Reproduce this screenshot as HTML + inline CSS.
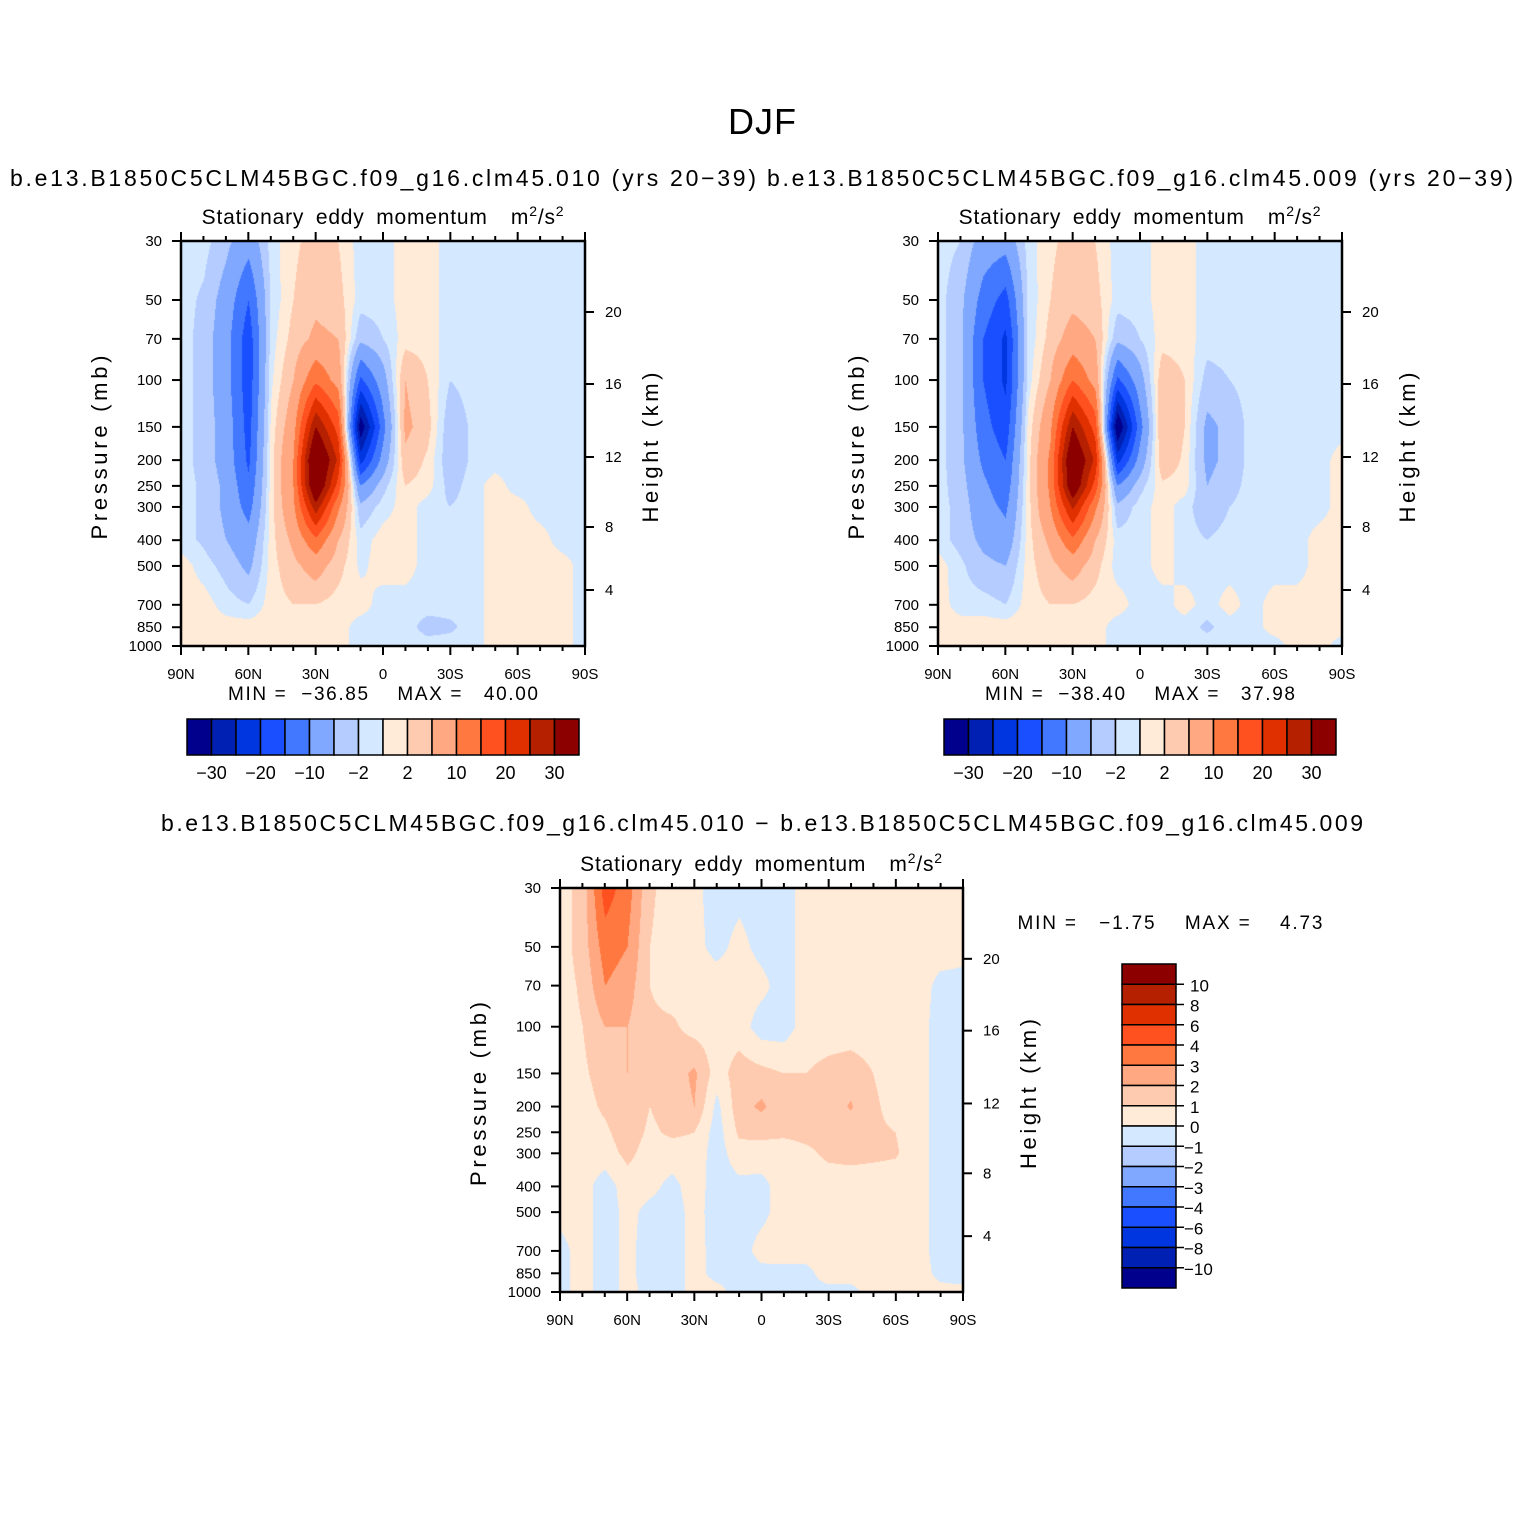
<!DOCTYPE html>
<html><head><meta charset="utf-8">
<style>
body{margin:0;background:#fff;}
#wrap{position:relative;width:1524px;height:1524px;background:#fff;overflow:hidden;font-family:"Liberation Sans",sans-serif;}
canvas{position:absolute;}
svg{position:absolute;left:0;top:0;}
</style></head>
<body>
<div id="wrap">
<canvas id="c1" width="404" height="405" style="left:181px;top:241px"></canvas>
<canvas id="c2" width="404" height="405" style="left:938px;top:241px"></canvas>
<canvas id="c3" width="403" height="404" style="left:560px;top:888px"></canvas>
<svg id="svg" width="1524" height="1524"></svg>
</div>
<script>
const lats=[90,80,70,60,50,40,30,20,10,0,-10,-20,-30,-40,-50,-60,-70,-80,-90];
const plevs=[30,50,70,100,150,200,250,300,400,500,700,850,1000];
const fieldA=[
[-1,-1,-1,-1,-1,-1,-1,-1,-1,1,1,1,1],
[-1,-2.5,-3,-3,-3,-3,-2.5,-2.5,-2.5,-1,1,1,1],
[-4,-7,-8,-8,-7,-7,-6,-6,-5,-3,-1,1,1],
[-8,-15,-18,-18,-17,-16,-14,-12,-8,-6,-2,1,2],
[-1,-1.5,-1,-0.5,0.5,1,1,1,1,1,1,1,2],
[1.5,2,3,5,8,10,10,9,6,4,2,1,1],
[3,4,6,14,30,40,38,28,14,7,2,1,1],
[2,3,5,8,18,24,18,11,5,3,1,1,1],
[-1,-1,-4,-16,-34,-22,-10,-4,-1,-0.5,1,-1,-1],
[-1,-1,-2,-7,-12,-8,-3,-1,1,1,-1,-1,-1],
[1,1,1,5,6,4,2,1,1,1,-1,-1,-1],
[1,1,1,2,3,1.5,1,-1,-1,-1,-1,-3,-1],
[-1,-1,-1,-2,-4,-4,-3,-2,-1,-1,-1,-2.5,-1],
[-1,-1,-1,-1,-1.5,-1.5,-1,-1,-1,-1,-1,-1,-1],
[-1,-1,-1,-1,-1,-1,1,1,1,1,1,1,1],
[-1,-1,-1,-1,-1,-1,-1,1,1,1,1,1,1],
[-1,-1,-1,-1,-1,-1,-1,-1,1,1,1,1,1],
[-1,-1,-1,-1,-1,-1,-1,-1,-1,1,1,1,1],
[-1,-1,-1,-1,-1,-1,-1,-1,-1,-1,-1,-1,-1]];
const fieldB=[
[-1,-1,-1,-1,-1,-1,-1,-1,-1,1,1,1,1],
[-2,-4,-4,-4,-4,-4,-3.5,-3,-3,-1.5,-1,1,1],
[-7,-12,-15,-15,-13,-11,-9,-8,-6,-4,-1,1,1],
[-8,-17,-21,-21,-18,-15,-13,-11,-8,-5,-2,1,2],
[-1,-1.5,-1.5,-1,0.5,1,1,1,1,1,1,1,2],
[1.5,2,3,5,9,11,11,10,6,4,2,1,1],
[3,4,7,15,30,38,36,26,14,7,2,1,1],
[2,3,5,8,18,24,18,11,5,3,1,1,1],
[-1,-1,-4,-16,-36,-22,-10,-4,-1,-1,1,-1,-1],
[-1,-1,-2,-7,-12,-8,-3,-1,-1,-1,-1,-1,-1],
[1,1,1,4,5,4,1.5,1,1,1,-1,-1,-1],
[1,1,1,2,2,1.5,1,-1,-1,-1,1,-1,-1],
[-1,-1,-1,-3,-6,-6,-5,-4,-2,-1,-1,-2.5,-1],
[-1,-1,-1,-2,-4,-4,-3,-2,-1,-1,1,-1,-1],
[-1,-1,-1,-1,-1,-1,-1,-1,-1,-1,-1,-1,-1],
[-1,-1,-1,-1,-1,-1,-1,-1,-1,-1,1,1,-1],
[-1,-1,-1,-1,-1,-1,-1,-1,-1,-1,1,1,1],
[-1,-1,-1,-1,-1,-1,-1,-1,1,1,1,1,1],
[-1,-1,-1,-1,-1,1,1,1,1,1,1,1,-1]];
const fieldD=[
[0.5,0.5,0.5,0.5,0.5,0.5,0.5,0.5,0.5,0.3,-0.3,-0.3,-0.3],
[1.5,1.5,1.2,1,0.8,0.6,0.5,0.5,0.4,0.4,0.4,0.4,0.4],
[4.5,3.5,3,2,1.5,1.2,0.8,0.5,-0.5,-0.5,-0.5,-0.5,-0.5],
[3.5,3,2.5,2,2,1.8,1.6,1.3,0.5,0.3,0.3,0.3,0.3],
[1.2,1,1,1.2,1.2,1,0.8,0.5,0.3,-0.3,-0.5,-0.5,-0.3],
[0.5,0.5,0.5,1.2,1.5,1.5,1.2,0.5,-0.3,-0.5,-0.5,-0.5,-0.5],
[0.3,0.3,0.5,0.6,2.2,2,1,0.6,0.5,0.4,0.4,0.4,0.4],
[-0.5,-0.3,0.5,0.5,0.5,-0.3,-0.5,-0.5,-0.5,-0.5,-0.4,-0.4,0.4],
[-0.3,0.3,0.5,0.5,1.5,1.6,1.2,0.6,-0.3,-0.5,-0.5,-0.5,-0.5],
[-0.5,-0.3,0.3,-0.5,1.3,2.2,1.3,0.5,-0.3,-0.3,0.4,-0.3,-0.3],
[-0.5,-0.5,-0.5,-0.5,1,1.3,1.2,0.5,0.5,0.5,0.5,-0.3,-0.3],
[0.5,0.5,0.5,0.5,1,1.3,1.3,0.8,0.5,0.5,0.5,-0.3,-0.3],
[0.5,0.5,0.5,0.5,1.3,1.5,1.3,1.2,0.5,0.5,0.5,0.5,-0.3],
[0.5,0.5,0.5,0.5,1.5,2.1,1.5,1.3,0.5,0.5,0.5,0.5,-0.3],
[0.5,0.5,0.5,0.5,1,1.2,1.2,1.2,0.5,0.5,0.5,0.5,0.4],
[0.5,0.5,0.5,0.5,0.5,0.6,1,1.1,0.5,0.5,0.5,0.5,0.4],
[0.5,0.5,0.5,0.5,0.5,0.5,0.5,0.5,0.5,0.5,0.5,0.5,0.4],
[0.5,0.5,-0.3,-0.5,-0.5,-0.5,-0.5,-0.5,-0.5,-0.5,-0.5,-0.3,0.3],
[0.5,0.3,-0.3,-0.5,-0.5,-0.5,-0.5,-0.5,-0.5,-0.5,-0.5,-0.5,0.3]];
const levelsTop=[-30,-25,-20,-15,-10,-5,-2,0,2,5,10,15,20,25,30];
const levelsDiff=[-10,-8,-6,-4,-3,-2,-1,0,1,2,3,4,6,8,10];
const colors=["#00008c","#0020b4","#0036e0","#1a4fff","#4278ff","#80a8ff","#b4ccff","#d4e8ff","#ffebd8","#ffcbb0","#ffa882","#ff7840","#ff5020","#e03000","#b42000","#8c0000"];
const topTickLabels=["-30","-20","-10","-2","2","10","20","30"];
const diffTickLabels=["10","8","6","4","3","2","1","0","\u22121","\u22122","\u22123","\u22124","\u22126","\u22128","\u221210"];
const pTicks=[30,50,70,100,150,200,250,300,400,500,700,850,1000];
const hTicks=[4,8,12,16,20];
const hTickY=[590,527,457,384,312];
const latTicks=[90,60,30,0,-30,-60,-90];
const latLabels=["90N","60N","30N","0","30S","60S","90S"];

function hex(c){return [parseInt(c.substr(1,2),16),parseInt(c.substr(3,2),16),parseInt(c.substr(5,2),16)];}
const rgb=colors.map(hex);
function colorIdx(v,lev){let i=0;while(i<lev.length&&v>=lev[i])i++;return i;}
function sample(field,lat,p){
  let fc=(90-lat)/10; let c0=Math.min(17,Math.floor(fc)); let tc=fc-c0;
  const lp=Math.log(p); let r0=0;
  while(r0<plevs.length-2&&Math.log(plevs[r0+1])<lp)r0++;
  const a=Math.log(plevs[r0]),b=Math.log(plevs[r0+1]);let tr=(lp-a)/(b-a);
  tr=Math.max(0,Math.min(1,tr));
  const v00=field[c0][r0],v01=field[c0][r0+1],v10=field[c0+1][r0],v11=field[c0+1][r0+1];
  return (v00*(1-tc)+v10*tc)*(1-tr)+(v01*(1-tc)+v11*tc)*tr;
}
function drawField(id,field,lev){
  const cv=document.getElementById(id),ctx=cv.getContext('2d');
  const W=cv.width,H=cv.height,img=ctx.createImageData(W,H);
  const L=Math.log(1000/30);
  for(let y=0;y<H;y++){const p=30*Math.exp(L*y/(H-1));
    for(let x=0;x<W;x++){const lat=90-180*x/(W-1);
      const v=sample(field,lat,p);const c=rgb[colorIdx(v,lev)];
      const k=(y*W+x)*4;img.data[k]=c[0];img.data[k+1]=c[1];img.data[k+2]=c[2];img.data[k+3]=255;}}
  ctx.putImageData(img,0,0);
}
drawField('c1',fieldA,levelsTop);
drawField('c2',fieldB,levelsTop);
drawField('c3',fieldD,levelsDiff);

const NS="http://www.w3.org/2000/svg";const svg=document.getElementById('svg');
function el(tag,attrs,parent){const e=document.createElementNS(NS,tag);for(const k in attrs)e.setAttribute(k,attrs[k]);(parent||svg).appendChild(e);return e;}
function txt(x,y,s,size,anchor,parent,rot){const t=el('text',{x:x,y:y,'font-size':size,'text-anchor':anchor||'middle','font-family':'Liberation Sans, sans-serif',fill:'#000'},parent);if(rot)t.setAttribute('transform','rotate(-90 '+x+' '+y+')');t.textContent=s;return t;}
function fit(t,len){t.setAttribute('textLength',len);t.setAttribute('lengthAdjust','spacing');}

const tt=txt(762,134,"DJF",36);


fit(tt,68);

function panel(px,py,W,H,name,title,titleX,titleY,titleLen){
  const g=el('g',{});
  
  
  const xs=lat=>px+(90-lat)/180*W;
  const ys=p=>py+Math.log(p/30)/Math.log(1000/30)*H;
  const t=txt(titleX,titleY,title,23,'middle',g);
  
  
  fit(t,titleLen);
  const st=el('text',{x:px+W/2,y:py-17,'font-size':21,'text-anchor':'middle','font-family':'Liberation Sans, sans-serif','word-spacing':'5','letter-spacing':'0.8'},g);
  
  
  st.innerHTML='Stationary eddy momentum&#160;&#160;m<tspan dy="-8" font-size="14">2</tspan><tspan dy="8">/s</tspan><tspan dy="-8" font-size="14">2</tspan>';
  el('rect',{x:px,y:py,width:W,height:H,fill:'none',stroke:'#000','stroke-width':2.5},g);
  for(let lat=90;lat>=-90;lat-=10){const major=lat%30===0;const L=major?9:5;
    el('line',{x1:xs(lat),x2:xs(lat),y1:py,y2:py-L,stroke:'#000','stroke-width':2},g);
    el('line',{x1:xs(lat),x2:xs(lat),y1:py+H,y2:py+H+L,stroke:'#000','stroke-width':2},g);}
  latTicks.forEach((lat,i)=>{const l=txt(xs(lat),py+H+33,latLabels[i],15,'middle',g);
    
    });
  pTicks.forEach(p=>{el('line',{x1:px,x2:px-9,y1:ys(p),y2:ys(p),stroke:'#000','stroke-width':2},g);
    const l=txt(px-19,ys(p)+5,String(p),15,'end',g);
    
    });
  hTicks.forEach((h,i)=>{const y=py+(hTickY[i]-241)*H/405;
    el('line',{x1:px+W,x2:px+W+9,y1:y,y2:y,stroke:'#000','stroke-width':2},g);
    const l=txt(px+W+20,y+5,String(h),15,'start',g);
    
    });
  const yt=txt(px-74,py+H/2+4,"Pressure (mb)",22,'middle',g,true);
  
  
  fit(yt,184);
  const rt=txt(px+W+73,py+H/2+4,"Height (km)",22,'middle',g,true);
  
  
  fit(rt,150);
}
panel(181,241,404,405,'left-panel','b.e13.B1850C5CLM45BGC.f09_g16.clm45.010 (yrs 20\u221239)',383,186,746);
panel(938,241,404,405,'right-panel','b.e13.B1850C5CLM45BGC.f09_g16.clm45.009 (yrs 20\u221239)',1140,186,746);
panel(560,888,403,404,'difference-panel','b.e13.B1850C5CLM45BGC.f09_g16.clm45.010 \u2212 b.e13.B1850C5CLM45BGC.f09_g16.clm45.009',762,831,1202);

function minmax(cx,y,s,name,len){const t=txt(cx,y,s,19,'middle');t.style.whiteSpace='pre';fit(t,len);}
minmax(383,700,"MIN =  \u221236.85    MAX =   40.00",'left-min-max',310);
minmax(1140,700,"MIN =  \u221238.40    MAX =   37.98",'right-min-max',310);
minmax(1170,929,"MIN =   \u22121.75    MAX =    4.73",'diff-min-max',305);

function hbar(x0,y0,name){const g=el('g',{});
  
  
  const w=392/16;
  colors.forEach((c,i)=>{const r=el('rect',{x:x0+i*w,y:y0,width:w,height:36,fill:c,stroke:'#000','stroke-width':1.5},g);
    
    });
  topTickLabels.forEach((s,i)=>{const l=txt(x0+w*(1+2*i),y0+60,s.replace('-','\u2212'),18,'middle',g);
    
    });
}
hbar(187,719,'left-colorbar');hbar(944,719,'right-colorbar');
(function(){const g=el('g',{});
  
  
  const h=324/16;
  colors.slice().reverse().forEach((c,i)=>{const r=el('rect',{x:1122,y:964+i*h,width:54,height:h,fill:c,stroke:'#000','stroke-width':1.5},g);
    
    });
  diffTickLabels.forEach((s,i)=>{const y=964+h*(i+1);
    el('line',{x1:1176,x2:1184,y1:y,y2:y,stroke:'#000','stroke-width':1.5},g);
    const l=txt(s.indexOf('\u2212')===0?1184:1190,y+7,s,17,'start',g);
    
    });
})();
</script>
</body></html>
